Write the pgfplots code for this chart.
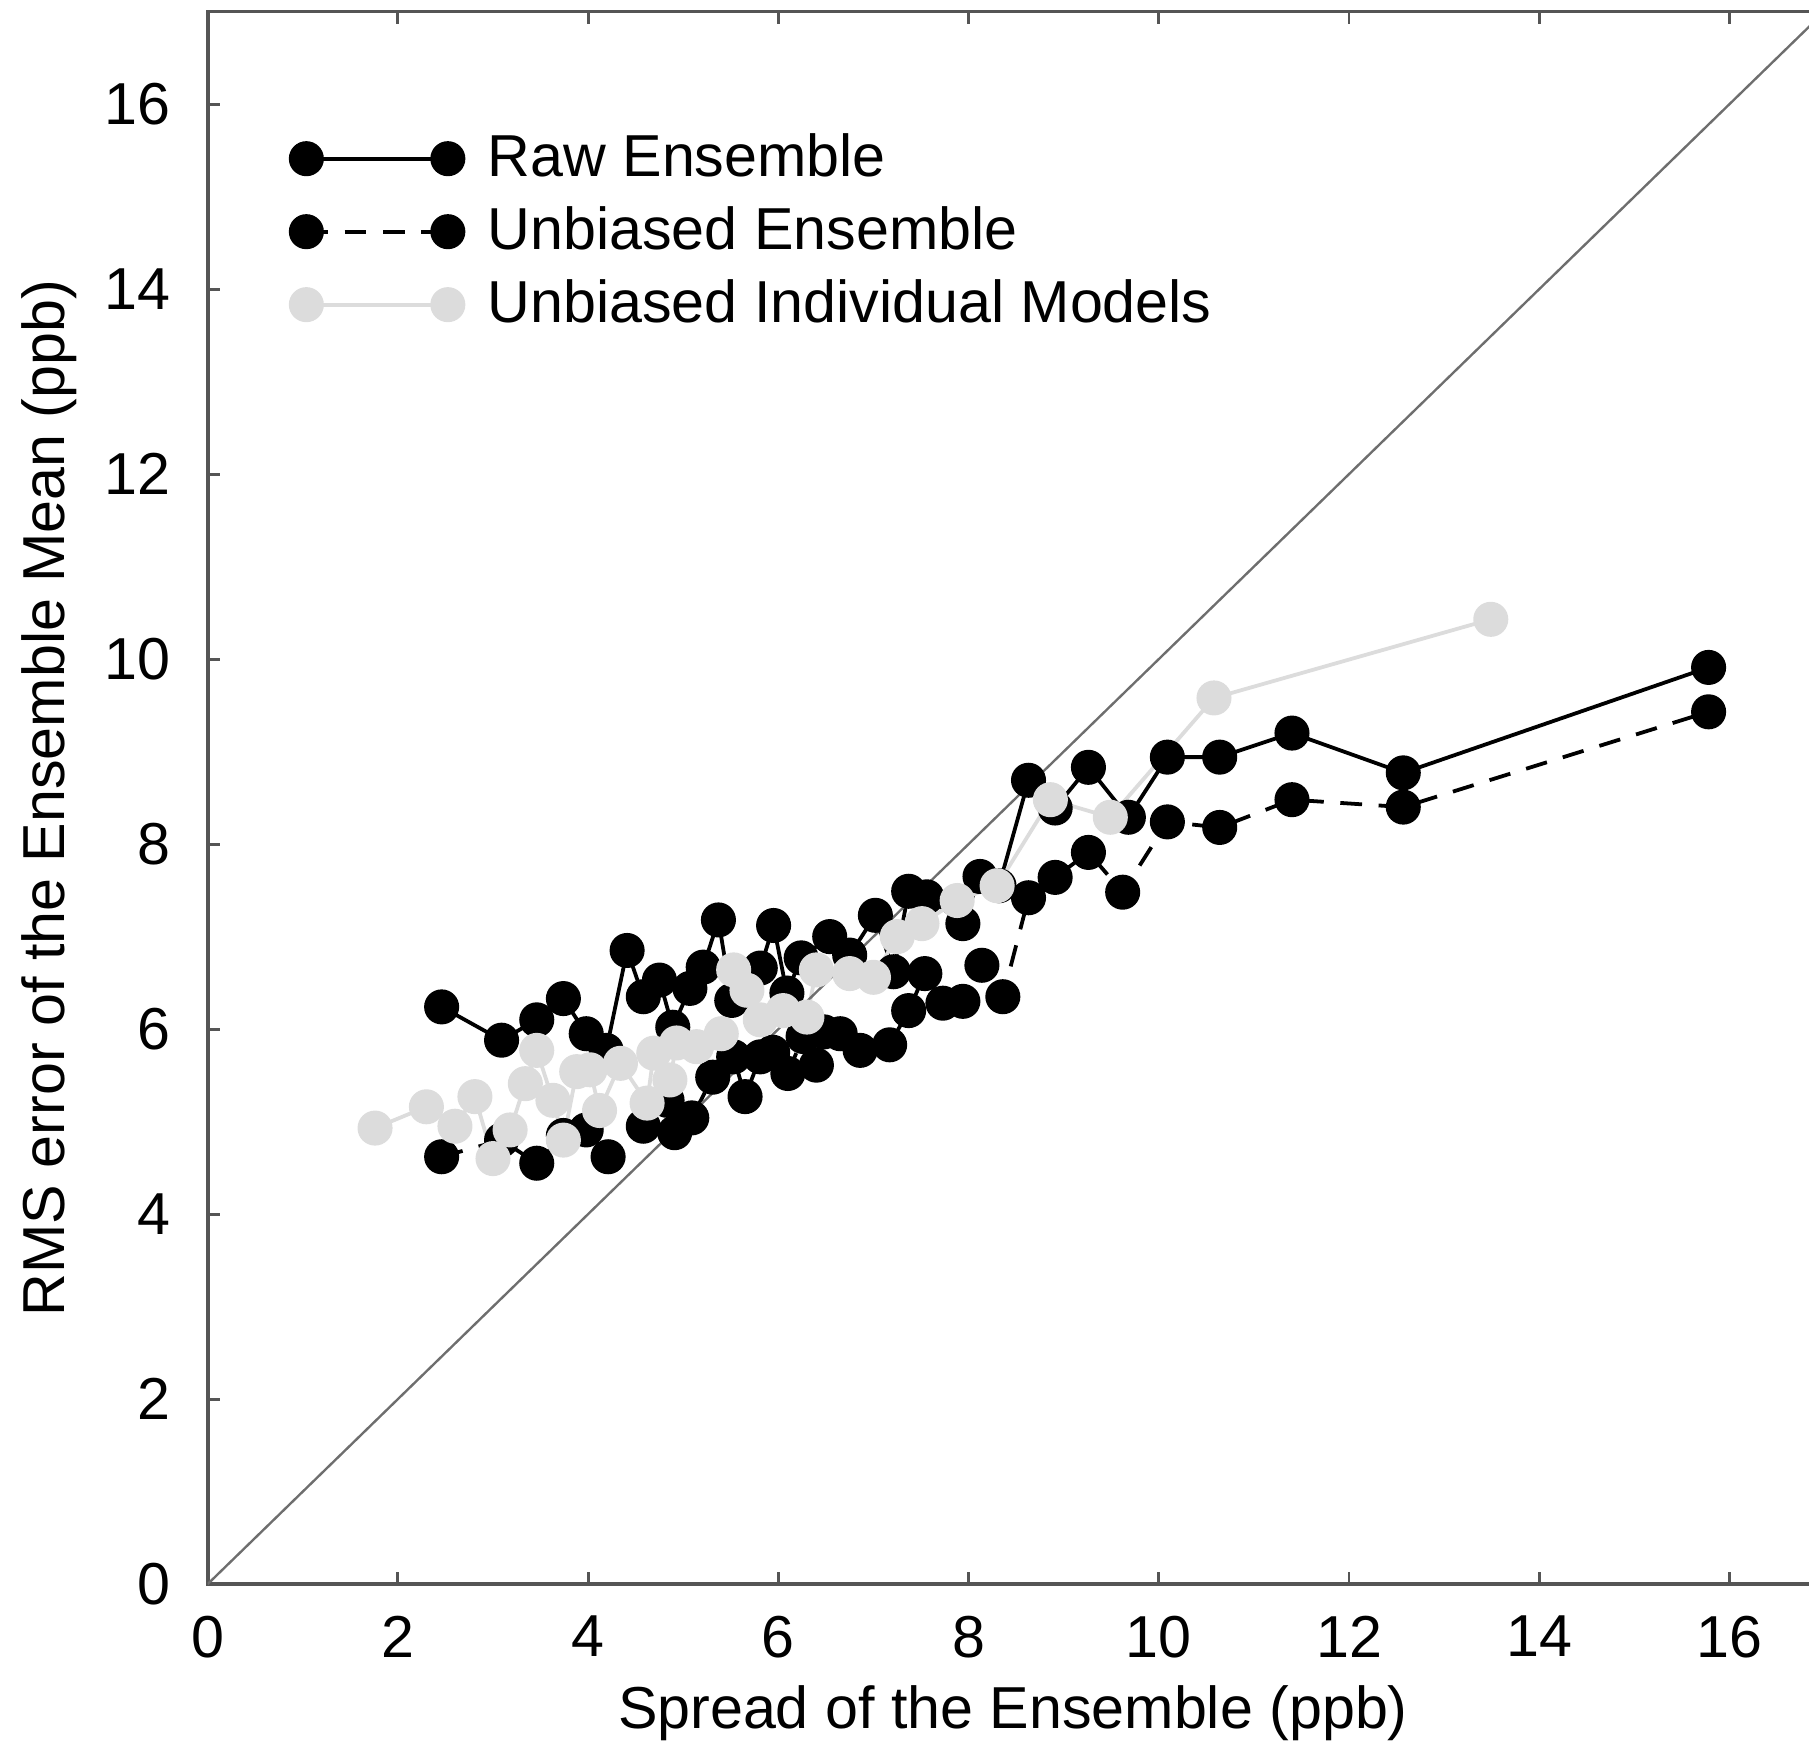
\documentclass[border=0pt]{standalone}
\usepackage{pgfplots}
\pgfplotsset{compat=1.18}
\usepackage{fontspec}
\setmainfont{Liberation Sans}
\definecolor{lgray}{RGB}{220,220,220}
\definecolor{axgray}{RGB}{85,85,85}
\definecolor{diaggray}{RGB}{110,110,110}
\pgfplotstableread{
x y
2.46 6.24
3.09 5.88
3.46 6.10
3.74 6.33
3.98 5.95
4.19 5.77
4.41 6.85
4.58 6.35
4.75 6.53
4.89 6.02
5.07 6.44
5.21 6.67
5.37 7.18
5.51 6.31
5.81 6.66
5.95 7.12
6.09 6.39
6.24 6.77
6.54 7.00
6.75 6.80
7.02 7.23
7.21 6.62
7.37 7.49
7.56 7.43
7.94 7.14
8.12 7.65
8.32 7.55
8.63 8.69
8.91 8.39
9.26 8.83
9.68 8.29
10.09 8.94
10.64 8.94
11.40 9.20
12.57 8.77
15.78 9.91
}\rawens
\pgfplotstableread{
x y
2.46 4.62
3.09 4.80
3.46 4.55
3.74 4.85
3.98 4.91
4.21 4.62
4.58 4.95
4.83 5.23
4.91 4.88
5.09 5.04
5.31 5.48
5.53 5.70
5.65 5.27
5.81 5.70
5.94 5.75
6.10 5.52
6.26 5.92
6.40 5.61
6.48 5.97
6.65 5.95
6.86 5.77
7.17 5.83
7.37 6.20
7.54 6.60
7.73 6.28
7.94 6.30
8.14 6.69
8.36 6.35
8.63 7.42
8.91 7.64
9.26 7.91
9.62 7.48
10.09 8.24
10.64 8.18
11.40 8.48
12.57 8.40
15.78 9.43
}\unbens
\pgfplotstableread{
x y
1.76 4.93
2.30 5.16
2.60 4.95
2.81 5.27
3.00 4.60
3.18 4.91
3.34 5.41
3.46 5.77
3.63 5.23
3.74 4.80
3.88 5.54
4.02 5.56
4.12 5.12
4.34 5.63
4.62 5.20
4.69 5.74
4.86 5.45
4.93 5.85
5.14 5.81
5.40 5.95
5.53 6.64
5.67 6.42
5.81 6.10
6.05 6.20
6.30 6.13
6.40 6.64
6.75 6.60
7.00 6.56
7.25 7.00
7.51 7.14
7.88 7.39
8.30 7.55
8.86 8.48
9.49 8.29
10.58 9.58
13.49 10.43
}\indiv
\begin{document}
\begin{tikzpicture}
\path[use as bounding box] (-1.541,-1.216) rectangle (11.884,11.756);
\begin{axis}[
  at={(0,0)}, anchor=south west,
  width=12cm, height=11.67cm, scale only axis,
  xmin=0, xmax=17, ymin=0, ymax=17,
  xtick={0,2,...,16}, ytick={0,2,...,16},
  tick align=inside, major tick length=0.09cm,
  axis line style={axgray, line width=0.8pt},
  every tick/.style={axgray, line width=0.6pt},
  /pgf/number format/assume math mode=true,
  tick label style={font=\fontsize{12.5}{15}\selectfont},
  xticklabel style={yshift=-0.11cm},
  yticklabel style={xshift=-0.15cm},
  label style={font=\fontsize{12.5}{15}\selectfont},
  xlabel={Spread of the Ensemble (ppb)},
  ylabel={RMS error of the Ensemble Mean (ppb)},
  xlabel style={at={(axis description cs:0.498,-0.0823)}, anchor=center},
  ylabel style={at={(axis description cs:-0.0983,0.5)}, anchor=center},
  legend cell align=left,
  legend image code/.code={\draw[#1, mark repeat=1] plot coordinates {(0cm,0cm) (1.05cm,0cm)};},
  legend style={draw=none, fill=none, at={(axis description cs:0.042,0.935)}, anchor=north west,
     font=\fontsize{12.5}{15}\selectfont, row sep=0.03cm, column sep=0.11cm},
]
\addplot[black, line width=0.8pt, mark=*, mark size=3.3pt, mark options={solid}] table {\rawens};
\addlegendentry{Raw Ensemble}
\addplot[black, line width=0.8pt, dash pattern=on 4.6pt off 3.5pt, mark=*, mark size=3.3pt, mark options={solid}] table {\unbens};
\addlegendentry{Unbiased Ensemble}
\addplot[lgray, line width=0.8pt, mark=*, mark size=3.3pt, mark options={solid}] table {\indiv};
\addlegendentry{Unbiased Individual Models}
\addplot[diaggray, line width=0.5pt, forget plot] coordinates {(0,0) (17,17)};
\end{axis}
\end{tikzpicture}
\end{document}
